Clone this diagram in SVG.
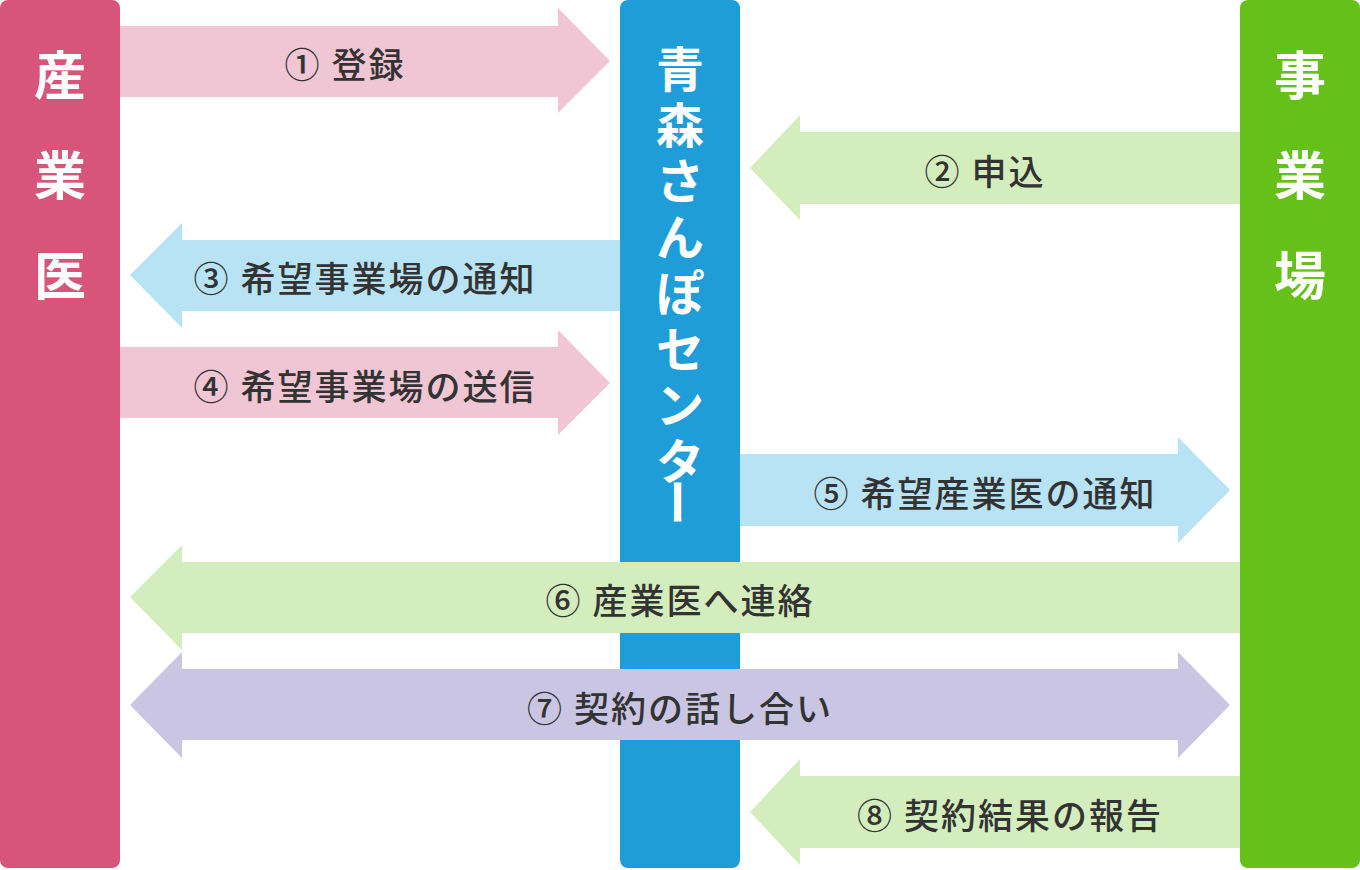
<svg xmlns="http://www.w3.org/2000/svg" width="1360" height="870" viewBox="0 0 1360 870">
<style>
.p{fill:#f0c5d4}.g{fill:#d3edbd}.b{fill:#b7e3f4}.v{fill:#c9c5e3}
.l{font-family:"Noto Sans CJK JP",sans-serif;font-size:35px;font-weight:500;fill:#333;text-anchor:middle;dominant-baseline:central;letter-spacing:2px}
.w{font-family:"Noto Sans CJK JP",sans-serif;font-size:52px;font-weight:700;fill:#fff;text-anchor:middle;dominant-baseline:central}
.c{font-family:"Noto Sans CJK JP",sans-serif;font-size:48px;font-weight:700;fill:#fff;text-anchor:middle;dominant-baseline:central}
</style>
<g id="sangyoui"><rect x="0" y="0" width="120" height="868" rx="8" fill="#d8557a"/>
<text class="w" x="60" y="72">産</text><text class="w" x="60" y="172">業</text><text class="w" x="60" y="272">医</text></g>
<g id="center"><rect x="620" y="0" width="120" height="868" rx="8" fill="#1f9dd9"/>
<text class="c" x="680" y="66">青</text><text class="c" x="680" y="122">森</text><text class="c" x="680" y="178">さ</text><text class="c" x="680" y="234">ん</text><text class="c" x="680" y="290">ぽ</text><text class="c" x="680" y="346">セ</text><text class="c" x="680" y="402">ン</text><text class="c" x="680" y="458">タ</text><text class="c" x="680" y="502" transform="rotate(90 680 502)">ー</text></g>
<g id="jigyoba"><rect x="1240" y="0" width="120" height="868" rx="8" fill="#66c01a"/>
<text class="w" x="1300" y="72">事</text><text class="w" x="1300" y="172">業</text><text class="w" x="1300" y="272">場</text></g>
<g id="connectors">
<polygon class="p" points="120,26 558,26 558,8 610,61 558,113 558,97 120,97"/>
<text class="l" x="345" y="62">① 登録</text>
<polygon class="g" points="1240,132 800,132 800,115 750,168 800,220 800,204 1240,204"/>
<text class="l" x="985" y="169">② 申込</text>
<polygon class="b" points="620,240 182,240 182,223 130,275 182,328 182,311 620,311"/>
<text class="l" x="365" y="276">③ 希望事業場の通知</text>
<polygon class="p" points="120,347 558,347 558,330 610,383 558,435 558,418 120,418"/>
<text class="l" x="365" y="384">④ 希望事業場の送信</text>
<polygon class="b" points="740,454 1178,454 1178,437 1230,490 1178,543 1178,526 740,526"/>
<text class="l" x="985" y="491">⑤ 希望産業医の通知</text>
<polygon class="g" points="1240,562 182,562 182,545 130,597 182,650 182,633 1240,633"/>
<text class="l" x="680" y="598">⑥ 産業医へ連絡</text>
<polygon class="v" points="182,669 1178,669 1178,652 1230,705 1178,758 1178,740 182,740 182,758 130,705 182,652"/>
<text class="l" x="680" y="706">⑦ 契約の話し合い</text>
<polygon class="g" points="1240,776 800,776 800,759 750,812 800,865 800,848 1240,848"/>
<text class="l" x="1010" y="813">⑧ 契約結果の報告</text>
</g>
</svg>
